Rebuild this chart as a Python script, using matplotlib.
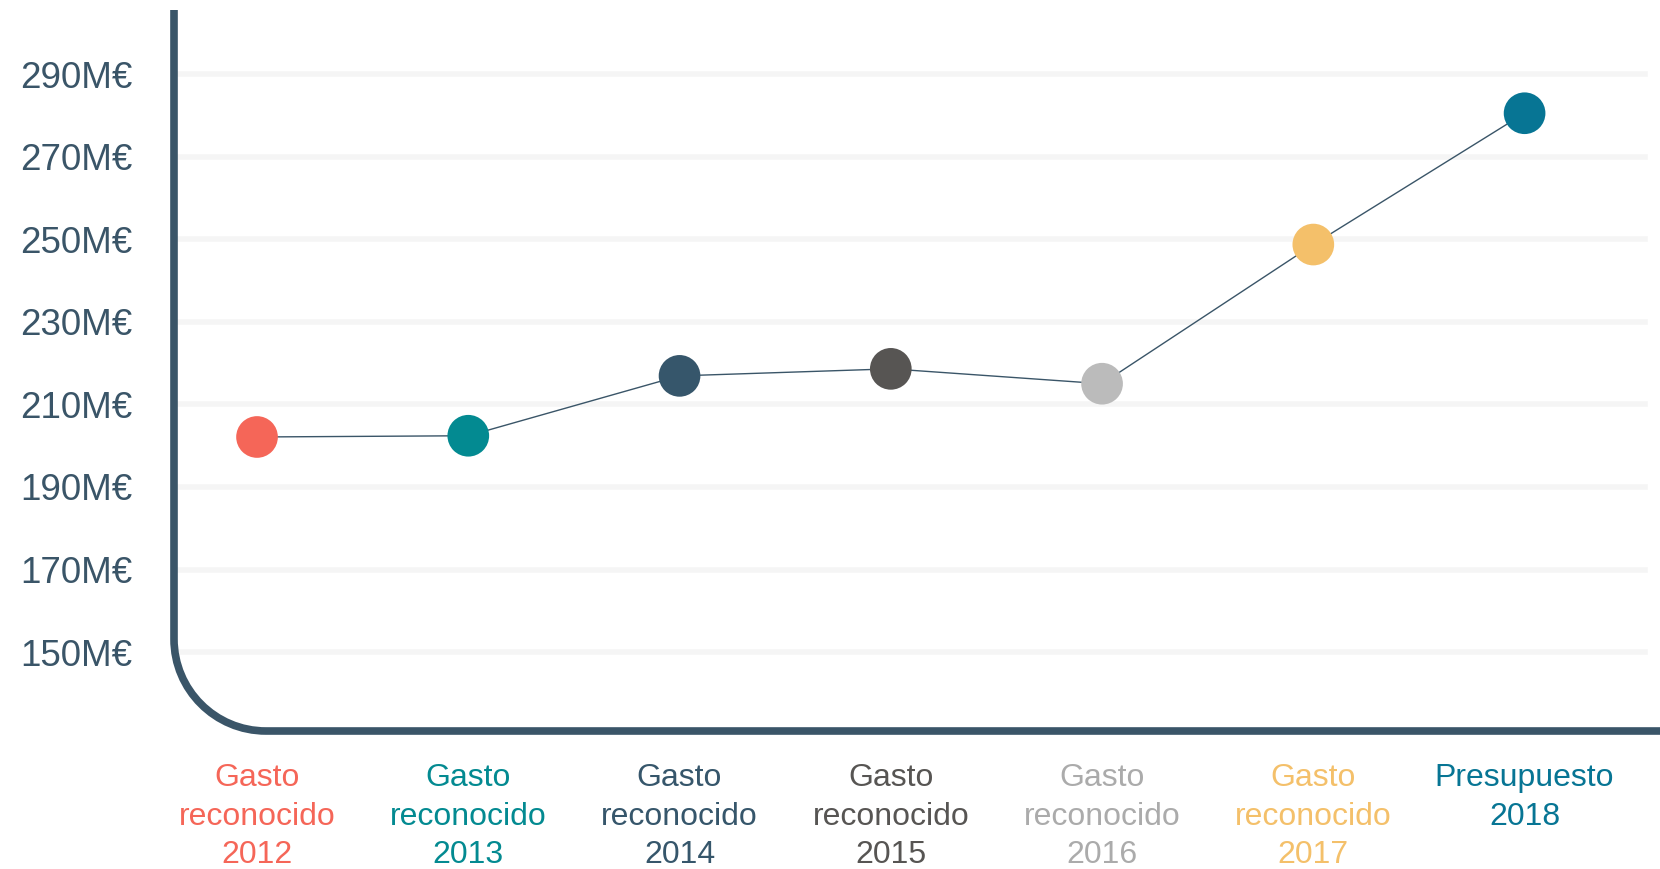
import numpy as np
import matplotlib
matplotlib.use("Agg")
import matplotlib.pyplot as plt
from matplotlib.path import Path
from matplotlib.patches import PathPatch

plt.rcParams['font.family'] = ['Liberation Sans', 'DejaVu Sans']

# data
categories = ['Gasto\nreconocido\n2012', 'Gasto\nreconocido\n2013', 'Gasto\nreconocido\n2014',
              'Gasto\nreconocido\n2015', 'Gasto\nreconocido\n2016', 'Gasto\nreconocido\n2017',
              'Presupuesto\n2018']
values = [202.1, 202.4, 216.9, 218.6, 215.0, 248.7, 280.5]  # M€
point_colors = ['#F56658', '#038A91', '#36566B', '#575553', '#BBBBBB', '#F4C06A', '#077594']
label_colors = ['#F56658', '#038A91', '#36566B', '#575553', '#ABABAB', '#F4C06A', '#077594']
yticks = [150, 170, 190, 210, 230, 250, 270, 290]

W, H = 1660, 869
dark = '#3A5568'

fig = plt.figure(figsize=(W / 100, H / 100), dpi=100)
# axes box in pixels: left spine at 174, top 10, bottom 731, right edge of figure
left, top, bottom = 174, 10, 731
ax = fig.add_axes((left / W, 1 - bottom / H, (W - left) / W, (bottom - top) / H))

x = np.arange(len(values))
ax.plot(x, values, color=dark, lw=1, zorder=2)
ax.scatter(x, values, s=30 ** 2, c=point_colors, zorder=3, linewidths=0)

for v in yticks:
    ax.axhline(v, xmin=0.004, xmax=0.99, color='#F5F5F5', lw=4, zorder=1)

ax.set_xlim(-0.393, 6.641)
ax.set_ylim(130.9, 305.5)

ax.set_yticks(yticks)
ax.set_yticklabels(['{}M€'.format(v) for v in yticks])
ax.set_xticks(x)
ax.set_xticklabels(categories, linespacing=1.38)
ax.tick_params(axis='y', length=0, pad=30, labelsize=26.5, labelcolor=dark)
ax.tick_params(axis='x', length=0, pad=23, labelsize=23)
for lab, c in zip(ax.get_xticklabels(), label_colors):
    lab.set_color(c)
    lab.set_verticalalignment('top')

for s in ax.spines.values():
    s.set_visible(False)

# rounded L-shaped frame (figure pixel coords), quarter circle corner
r = 92
k = 0.5523 * r
pts = [(left, H - top), (left, H - bottom + r),
       (left, H - bottom + r - k), (left + r - k, H - bottom), (left + r, H - bottom),
       (W + 5, H - bottom)]
codes = [Path.MOVETO, Path.LINETO, Path.CURVE4, Path.CURVE4, Path.CURVE4, Path.LINETO]
frame = PathPatch(Path([(px / W, py / H) for px, py in pts], codes), transform=fig.transFigure,
                  fill=False, edgecolor=dark, lw=5.5, capstyle='butt', zorder=5)
fig.patches.append(frame)

fig.savefig('out.png', dpi=100)
